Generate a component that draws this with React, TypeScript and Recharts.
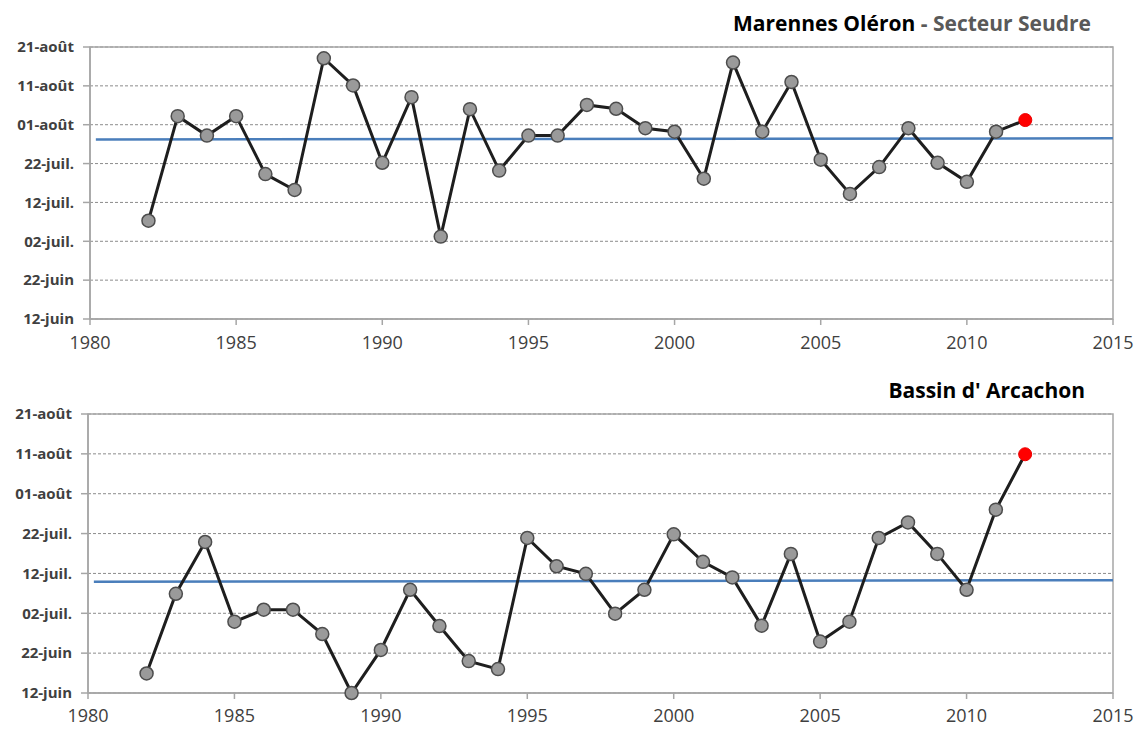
import React from 'react';
import { LineChart, Line, XAxis, YAxis, CartesianGrid, ReferenceArea } from 'recharts';

// Day index: 0 = 12-juin, 10 = 22-juin, ... 70 = 21-août
const yTickValues = [0, 10, 20, 30, 40, 50, 60, 70];
const yTickLabels = ['12-juin', '22-juin', '02-juil.', '12-juil.', '22-juil.', '01-août', '11-août', '21-août'];
const xTicks = [1980, 1985, 1990, 1995, 2000, 2005, 2010, 2015];

const years = [1982, 1983, 1984, 1985, 1986, 1987, 1988, 1989, 1990, 1991, 1992, 1993, 1994, 1995, 1996,
  1997, 1998, 1999, 2000, 2001, 2002, 2003, 2004, 2005, 2006, 2007, 2008, 2009, 2010, 2011, 2012];

const marennesValues = [25.3, 52.2, 47.2, 52.2, 37.3, 33.2, 67.1, 60.1, 40.2, 57.1, 21.2, 54.0, 38.2, 47.2, 47.2,
  55.1, 54.1, 49.1, 48.2, 36.1, 66.0, 48.2, 61.0, 41.0, 32.2, 39.1, 49.1, 40.2, 35.3, 48.2, 51.2];

const arcachonValues = [4.9, 24.9, 37.9, 17.9, 20.9, 20.9, 14.8, 0, 10.8, 25.9, 16.8, 8.0, 6.0, 38.9, 31.8,
  29.9, 19.9, 25.9, 39.8, 32.9, 29.0, 16.9, 34.9, 12.9, 17.9, 38.9, 42.8, 34.9, 25.9, 46.0, 59.9];

const trendYears = [1980.2, 2015];
const marennesTrend = [46.2, 46.5];
const arcachonTrend = [27.9, 28.3];

const lastYear = 2012;

const FONT = '"Open Sans", "DejaVu Sans", sans-serif';

const build = (vals: number[]) => years.map((y, i) => ({ year: y, v: vals[i] }));
const buildTrend = (vals: number[]) => trendYears.map((y, i) => ({ year: y, v: vals[i] }));

const yFmt = (v: number) => {
  const i = yTickValues.indexOf(v);
  return i >= 0 ? yTickLabels[i] : '';
};

const renderDot = (props: any) => {
  const { cx, cy, payload, index } = props;
  if (payload && payload.year === lastYear) {
    return <circle key={`d${index}`} cx={cx} cy={cy} r={6.5} fill="#ff0000" stroke="#ee0000" strokeWidth={1} />;
  }
  return <circle key={`d${index}`} cx={cx} cy={cy} r={6.5} fill="#9a9a9a" stroke="#4d4d4d" strokeWidth={1.5} />;
};

type PanelProps = {
  values: number[];
  trend: number[];
  height: number;
  margin: { top: number; right: number; bottom: number; left: number };
  xAxisHeight: number;
  xTickMargin: number;
};

const Panel = ({ values, trend, height, margin, xAxisHeight, xTickMargin }: PanelProps) => (
  <LineChart width={1144} height={height} margin={margin}>
    <CartesianGrid horizontal vertical={false} stroke="#8c8c8c" strokeDasharray="3 2" />
    <ReferenceArea x1={1980} x2={2015} y1={0} y2={70} fill="none" stroke="#a6a6a6" strokeWidth={1.5} ifOverflow="visible" />
    <XAxis
      type="number"
      dataKey="year"
      domain={[1980, 2015]}
      ticks={xTicks}
      allowDataOverflow
      height={xAxisHeight}
      stroke="#a6a6a6"
      strokeWidth={1.5}
      tickSize={6}
      tickMargin={xTickMargin}
      tick={{ fill: '#404040', fontSize: 18, fontFamily: FONT }}
    />
    <YAxis
      type="number"
      domain={[0, 70]}
      ticks={yTickValues}
      tickFormatter={yFmt}
      width={80}
      stroke="#a6a6a6"
      strokeWidth={1.5}
      tickSize={7}
      tickMargin={9}
      tick={{ fill: '#404040', fontSize: 15, fontWeight: 700, fontFamily: FONT }}
    />
    <Line
      data={buildTrend(trend)}
      dataKey="v"
      stroke="#4a7ebb"
      strokeWidth={2.5}
      dot={false}
      isAnimationActive={false}
    />
    <Line
      data={build(values)}
      dataKey="v"
      stroke="#1e1e1e"
      strokeWidth={3}
      dot={renderDot}
      activeDot={false}
      isAnimationActive={false}
    />
  </LineChart>
);

export default function App() {
  return (
    <div style={{ position: 'absolute', left: 0, top: 0, width: 1144, height: 729, background: '#fff', fontFamily: FONT }}>
      <div style={{ position: 'absolute', right: 1144 - 1091, top: 9, fontSize: 21, fontWeight: 700, whiteSpace: 'nowrap' }}>
        <span style={{ color: '#000' }}>Marennes Oléron</span>
        <span style={{ color: '#595959' }}> - Secteur Seudre</span>
      </div>
      <div style={{ position: 'absolute', left: 0, top: 0 }}>
        <Panel
          values={marennesValues}
          trend={marennesTrend}
          height={360}
          margin={{ top: 47, right: 31, bottom: 7, left: 10 }}
          xAxisHeight={34}
          xTickMargin={11}
        />
      </div>
      <div style={{ position: 'absolute', right: 1144 - 1085, top: 376, fontSize: 21, fontWeight: 700, whiteSpace: 'nowrap', color: '#000' }}>
        Bassin d' Arcachon
      </div>
      <div style={{ position: 'absolute', left: 0, top: 360 }}>
        <Panel
          values={arcachonValues}
          trend={arcachonTrend}
          height={369}
          margin={{ top: 54, right: 31, bottom: 6, left: 8 }}
          xAxisHeight={30}
          xTickMargin={10}
        />
      </div>
    </div>
  );
}
